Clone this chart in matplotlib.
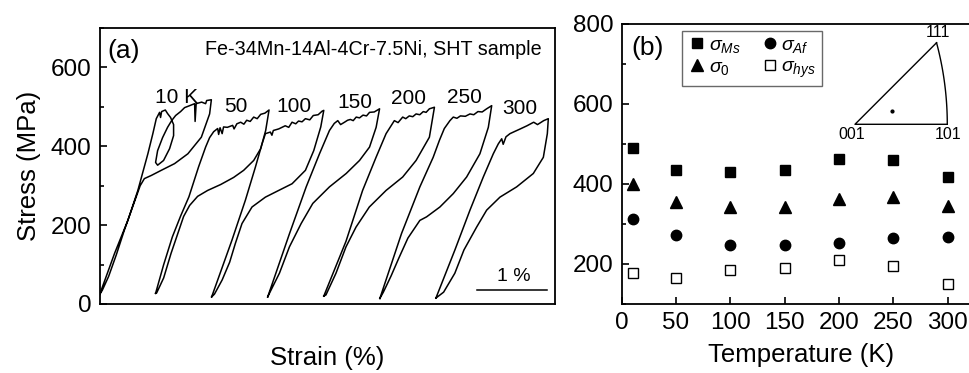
import matplotlib
matplotlib.use('Agg')
import matplotlib.pyplot as plt
from matplotlib.ticker import MultipleLocator, NullLocator
import numpy as np

plt.rcParams['font.family'] = ['Liberation Sans', 'DejaVu Sans']
plt.rcParams['mathtext.fontset'] = 'custom'
plt.rcParams['mathtext.rm'] = 'Liberation Sans'
plt.rcParams['mathtext.it'] = 'Liberation Sans:italic'
plt.rcParams['axes.linewidth'] = 1.3

# --- (a) stress-strain loops: strain relative to the loop start (%), stress (MPa)
strain_10 = [0.000, 0.214, 0.404, 0.547, 0.690, 0.761, 0.810, 0.857, 0.871, 0.886, 0.939, 0.971,
             1.014, 1.057, 1.057, 1.000, 0.914, 0.829, 0.800, 0.829, 0.900, 0.971, 1.029, 1.086,
             1.157, 1.214, 1.286, 1.357, 1.364, 1.379, 1.457, 1.514, 1.529, 1.596,
             1.571, 1.453, 1.261, 1.071, 0.881, 0.739, 0.640, 0.580, 0.530, 0.450, 0.350, 0.240,
             0.130, 0.040, 0.000]
stress_10 = [23, 128, 212, 288, 381, 432, 470, 486, 473, 488, 492, 483,
             473, 455, 427, 394, 364, 352, 359, 389, 422, 448, 465, 478,
             488, 498, 503, 508, 463, 508, 512, 508, 516, 518,
             482, 423, 381, 356, 339, 326, 318, 300, 275, 235, 185, 125,
             70, 35, 23]

strain_50 = [0, 0.114, 0.239, 0.357, 0.476, 0.614, 0.714, 0.771, 0.829, 0.886, 0.90, 0.92, 0.95,
             0.97, 1.024, 1.10, 1.12, 1.16, 1.214, 1.26, 1.30, 1.35, 1.40, 1.45, 1.50, 1.56, 1.619,
             1.571, 1.50, 1.40, 1.257, 1.114, 0.929, 0.743, 0.60, 0.486, 0.40, 0.333, 0.22,
             0.115, 0.015, 0]
stress_50 = [27, 99, 170, 223, 272, 348, 398, 422, 437, 445, 430, 447, 432,
             449, 448, 453, 444, 457, 461, 456, 466, 463, 474, 470, 481, 484, 492,
             440, 394, 364, 339, 321, 303, 288, 273, 250, 222, 187, 128,
             66, 28, 27]

strain_100 = [0, 0.29, 0.481, 0.624, 0.719, 0.767, 0.838, 0.86, 0.88, 0.957, 1.05, 1.10, 1.147,
              1.20, 1.24, 1.29, 1.338, 1.40, 1.45, 1.52, 1.576, 1.60,
              1.557, 1.457, 1.338, 1.148, 0.957, 0.767, 0.576, 0.433, 0.339, 0.257, 0.15, 0.04, 0]
stress_100 = [18, 162, 263, 347, 406, 432, 436, 428, 440, 444, 452, 448, 461,
              457, 464, 462, 470, 467, 478, 480, 489, 491,
              449, 389, 339, 305, 288, 271, 246, 204, 154, 106, 61, 25, 18]

strain_150 = [0, 0.31, 0.549, 0.739, 0.881, 0.95, 1.0, 1.04, 1.096, 1.14, 1.18, 1.22, 1.263,
              1.31, 1.36, 1.41, 1.453, 1.52, 1.596,
              1.547, 1.453, 1.31, 1.12, 0.881, 0.643, 0.477, 0.31, 0.167, 0.024, 0]
stress_150 = [18, 178, 297, 381, 440, 458, 465, 455, 461, 466, 468, 465, 474,
              472, 479, 477, 486, 487, 495,
              448, 398, 364, 331, 297, 255, 204, 145, 78, 27, 18]

strain_200 = [0, 0.317, 0.554, 0.746, 0.889, 1.007, 1.06, 1.126, 1.17, 1.22, 1.27, 1.317, 1.37,
              1.42, 1.46, 1.507, 1.579,
              1.507, 1.317, 1.126, 0.889, 0.65, 0.46, 0.317, 0.174, 0.031, 0]
stress_200 = [20, 159, 288, 372, 432, 465, 460, 474, 470, 477, 475, 482, 480,
              488, 486, 495, 499,
              423, 364, 322, 288, 246, 195, 145, 78, 23, 20]

strain_250 = [0, 0.31, 0.571, 0.761, 0.85, 0.92, 1.0, 1.048, 1.10, 1.15, 1.22, 1.286, 1.34,
              1.40, 1.46, 1.524, 1.596,
              1.548, 1.428, 1.238, 1.048, 0.857, 0.667, 0.571, 0.40, 0.27, 0.16, 0.05, 0]
stress_250 = [14, 179, 297, 372, 415, 445, 465, 474, 471, 477, 476, 482, 480,
              488, 487, 495, 503,
              448, 381, 322, 280, 246, 221, 212, 167, 116, 71, 30, 14]

strain_300 = [0, 0.271, 0.486, 0.676, 0.819, 0.89, 0.939, 0.96, 1.0, 1.057, 1.13, 1.204, 1.30,
              1.395, 1.45, 1.538, 1.604,
              1.59, 1.533, 1.39, 1.152, 0.914, 0.724, 0.581, 0.40, 0.27, 0.11, 0]
stress_300 = [15, 137, 238, 322, 381, 406, 419, 405, 424, 432, 438, 444, 452,
              461, 455, 465, 470,
              432, 372, 331, 297, 271, 238, 195, 137, 78, 30, 15]

loop_labels = ['10 K', '50', '100', '150', '200', '250', '300']

# --- (b) characteristic stresses vs temperature
temps = [10, 50, 100, 150, 200, 250, 300]
sigma_ms = [489, 435, 430, 435, 462, 459, 418]
sigma_0 = [400, 356, 342, 343, 362, 367, 345]
sigma_af = [312, 272, 247, 247, 253, 266, 267]
sigma_hys = [178, 164, 185, 189, 211, 194, 151]

# stereographic projection of the loading axis inside the 001-101-111 triangle
axis_proj = (0.167, 0.060)

loops = [(strain_10, stress_10), (strain_50, stress_50), (strain_100, stress_100),
         (strain_150, stress_150), (strain_200, stress_200), (strain_250, stress_250),
         (strain_300, stress_300)]
loop_shift = 0.8  # horizontal offset between loops (%)

fig = plt.figure(figsize=(9.69, 3.73), dpi=100)

# ---------------- panel (a)
ax1 = fig.add_axes([0.1027, 0.185, 0.4701, 0.74])
for i, (s, p) in enumerate(loops):
    ax1.plot(np.array(s) + i * loop_shift, p, color='k', lw=1.1)

label_pos = [(1.10, 524), (1.95, 500), (2.77, 500), (3.64, 511), (4.41, 520), (5.21, 524), (6.0, 495)]
for txt, (x, y) in zip(loop_labels, label_pos):
    ax1.text(x, y, txt, ha='center', va='center', fontsize=15)

ax1.set_xlim(0, 6.5)
ax1.set_ylim(0, 700)
ax1.xaxis.set_major_locator(NullLocator())
ax1.yaxis.set_major_locator(MultipleLocator(200))
ax1.yaxis.set_minor_locator(MultipleLocator(100))
ax1.tick_params(axis='y', which='both', direction='in', labelsize=17.5, width=1.2, pad=6)
ax1.tick_params(axis='y', which='major', length=5)
ax1.tick_params(axis='y', which='minor', length=3)
ax1.set_ylabel('Stress (MPa)', fontsize=18.5, labelpad=7)
ax1.set_xlabel('Strain (%)', fontsize=18.5, labelpad=30)
ax1.text(0.34, 642, '(a)', fontsize=19, ha='center', va='center')
ax1.text(6.31, 645, 'Fe-34Mn-14Al-4Cr-7.5Ni, SHT sample', fontsize=14.2, ha='right', va='center')

# 1 % scale bar
ax1.plot([5.39, 5.39 + 1.0], [35, 35], color='k', lw=1.1)
ax1.text(5.91, 69, '1 %', fontsize=14, ha='center', va='center')

# ---------------- panel (b)
ax2 = fig.add_axes([0.6416, 0.185, 0.3701, 0.7507])
ax2.plot(temps, sigma_ms, 's', color='k', ms=7.5, label=r'$\sigma_{Ms}$')
ax2.plot(temps, sigma_0, '^', color='k', ms=8, label=r'$\sigma_0$')
ax2.plot(temps, sigma_af, 'o', color='k', ms=7.5, label=r'$\sigma_{Af}$')
ax2.plot(temps, sigma_hys, 's', mfc='white', mec='k', mew=1.0, ms=7, label=r'$\sigma_{hys}$')

ax2.set_xlim(0, 330)
ax2.set_ylim(100, 800)
ax2.xaxis.set_major_locator(MultipleLocator(50))
ax2.yaxis.set_major_locator(MultipleLocator(200))
ax2.yaxis.set_minor_locator(MultipleLocator(100))
ax2.tick_params(which='both', direction='in', labelsize=17.5, width=1.2, pad=6)
ax2.tick_params(which='major', length=5)
ax2.tick_params(which='minor', length=3)
ax2.set_xlabel('Temperature (K)', fontsize=18.5, labelpad=6)
ax2.text(24, 740, '(b)', fontsize=19, ha='center', va='center')

leg = ax2.legend(ncol=2, loc='upper left', bbox_to_anchor=(0.167, 0.976), borderaxespad=0,
                 fontsize=14, frameon=True, fancybox=False, handletextpad=0.1,
                 columnspacing=1.0, handlelength=1.0, borderpad=0.3, labelspacing=0.15)
leg.get_frame().set_edgecolor('#444444')
leg.get_frame().set_linewidth(1.0)

# ---------------- inset: standard stereographic triangle
ins = fig.add_axes([840 / 969, 1 - 140 / 373, 120 / 969, 110 / 373])
ins.set_xlim(-0.0673, 0.4713)
ins.set_ylim(-0.0705, 0.4232)
ins.axis('off')
p001 = (0.0, 0.0)
p101 = (np.sqrt(0.5) / (1 + np.sqrt(0.5)), 0.0)
p111 = (np.sqrt(1 / 3) / (1 + np.sqrt(1 / 3)),) * 2
t = np.linspace(0, 1, 50)
n = np.sqrt(2 + t ** 2)
arc_x = 1 / (n + 1)
arc_y = t / (n + 1)
ins.plot([p111[0], p001[0], p101[0]], [p111[1], p001[1], p101[1]], color='k', lw=1.0)
ins.plot(arc_x, arc_y, color='k', lw=1.0)
ins.plot(*axis_proj, 'o', color='k', ms=2)
ins.text(p001[0] - 0.015, p001[1] - 0.045, '001', fontsize=11.5, ha='center', va='center')
ins.text(p101[0] + 0.005, p101[1] - 0.045, '101', fontsize=11.5, ha='center', va='center')
ins.text(p111[0] + 0.008, p111[1] + 0.045, '111', fontsize=11.5, ha='center', va='center')

fig.savefig('out.png', dpi=100)
